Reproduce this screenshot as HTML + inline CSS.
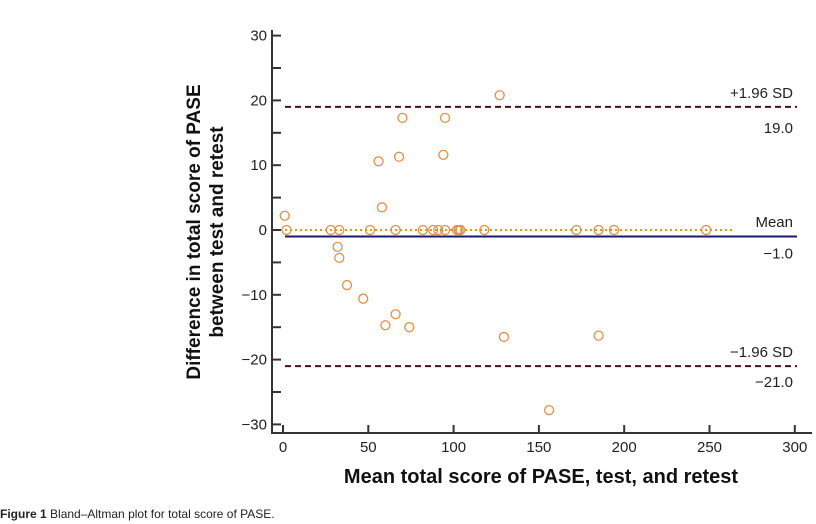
<!DOCTYPE html>
<html><head><meta charset="utf-8"><style>
body{margin:0;background:#fff;width:816px;height:524px;overflow:hidden;font-family:"Liberation Sans",sans-serif}
svg{display:block}
</style></head><body>
<svg width="816" height="524" id="chart" font-family="Liberation Sans, sans-serif">
<text x="0" y="518" font-size="12" fill="#222"><tspan font-weight="bold">Figure 1</tspan> Bland–Altman plot for total score of PASE.</text>
</svg>
<script>
const xTicks=[0,50,100,150,200,250,300];
const yTicks=[30,20,10,0,-10,-20,-30];
const ptX=[1,2,28,33,51,66,82,88,91,95,102,103,104,118,172,185,194,248,127,70,95,56,68,94,58,32,33,37.5,47,66,60,74,129.5,185,156];
const ptY=[2.2,0,0,0,0,0,0,0,0,0,0,0,0,0,0,0,0,0,20.8,17.3,17.3,10.6,11.3,11.6,3.5,-2.6,-4.3,-8.5,-10.6,-13,-14.7,-15,-16.5,-16.3,-27.8];
const meanDiff=-1.0, upperLoA=19.0, lowerLoA=-21.0;
const NS="http://www.w3.org/2000/svg";
const svg=document.getElementById('chart');
const sx=v=>283+v*1.706;
const sy=v=>230-v*6.48;
function mk(t,a){const e=document.createElementNS(NS,t);for(const k in a)e.setAttribute(k,a[k]);svg.appendChild(e);return e;}
let e;
e=mk('line',{x1:272,y1:30,x2:272,y2:434,stroke:'#333','stroke-width':2});


e=mk('line',{x1:271,y1:433,x2:812,y2:433,stroke:'#333','stroke-width':2});


for(let v=-30;v<=30;v+=5){e=mk('line',{x1:272,y1:sy(v),x2:281,y2:sy(v),stroke:'#333','stroke-width':2});

}
yTicks.forEach(v=>{e=mk('text',{x:267,y:sy(v)+5,'text-anchor':'end','font-size':15,fill:'#222'});e.textContent=v<0?'\u2212'+(-v):v;

});
xTicks.forEach(v=>{e=mk('line',{x1:sx(v),y1:425,x2:sx(v),y2:433,stroke:'#333','stroke-width':2});


e=mk('text',{x:sx(v),y:452,'text-anchor':'middle','font-size':15,fill:'#222'});e.textContent=v;

});
e=mk('text',{x:541,y:483,'text-anchor':'middle','font-size':20,'font-weight':'bold',fill:'#111'});e.textContent='Mean total score of PASE, test, and retest';


e=mk('text',{x:0,y:0,'text-anchor':'middle','font-size':19,'font-weight':'bold',fill:'#111',transform:'translate(200,232) rotate(-90)'});e.textContent='Difference in total score of PASE';


e=mk('text',{x:0,y:0,'text-anchor':'middle','font-size':19,'font-weight':'bold',fill:'#111',transform:'translate(223,232) rotate(-90)'});e.textContent='between test and retest';


e=mk('line',{x1:285,y1:sy(upperLoA),x2:797,y2:sy(upperLoA),stroke:'#4a1010','stroke-width':2,'stroke-dasharray':'6,4'});


e=mk('line',{x1:285,y1:sy(lowerLoA),x2:797,y2:sy(lowerLoA),stroke:'#4a1010','stroke-width':2,'stroke-dasharray':'6,4'});


e=mk('line',{x1:285,y1:sy(meanDiff),x2:797,y2:sy(meanDiff),stroke:'#1a1a6e','stroke-width':2});


e=mk('line',{x1:285,y1:sy(0),x2:733,y2:sy(0),stroke:'#d89a10','stroke-width':2,'stroke-dasharray':'2,3'});


ptX.forEach((x,i)=>{e=mk('circle',{cx:sx(x),cy:sy(ptY[i]),r:4.5,fill:'none',stroke:'#e0904a','stroke-width':1.3});

});
const labs=[['+1.96 SD',sy(upperLoA)-9,'upper-limit-label'],[upperLoA.toFixed(1),sy(upperLoA)+26,'upper-limit-value'],['Mean',sy(0)-3,'mean-label'],['\u2212'+Math.abs(meanDiff).toFixed(1),sy(meanDiff)+22,'mean-value'],['\u22121.96 SD',sy(lowerLoA)-9,'lower-limit-label'],['\u2212'+Math.abs(lowerLoA).toFixed(1),sy(lowerLoA)+21,'lower-limit-value']];
labs.forEach(l=>{e=mk('text',{x:793,y:l[1],'text-anchor':'end','font-size':15,fill:'#222'});e.textContent=l[0];

});
</script>
</body></html>
